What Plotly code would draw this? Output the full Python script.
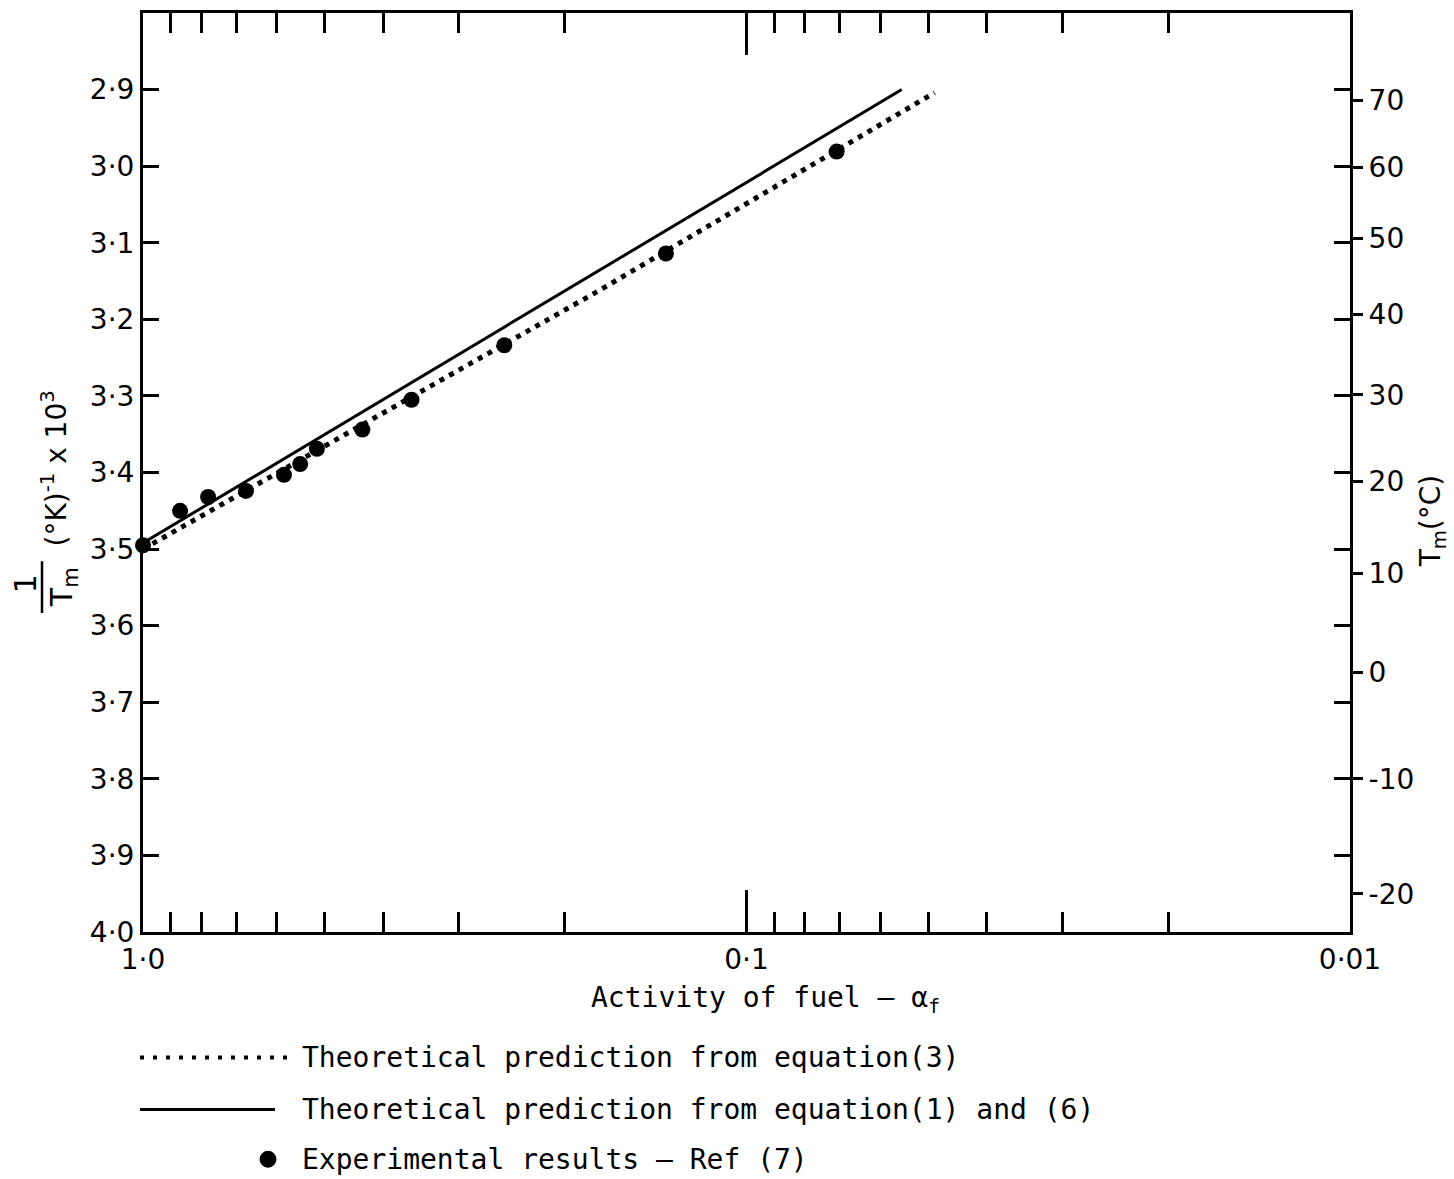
import plotly.graph_objects as go

# ---------------- data ----------------
exp_activity = [1.0, 0.868, 0.780, 0.675, 0.584, 0.549, 0.515, 0.433, 0.359, 0.252, 0.136, 0.0709]
exp_inv_tm = [3.495, 3.450, 3.432, 3.424, 3.403, 3.389, 3.369, 3.344, 3.305, 3.234, 3.114, 2.981]

eq3_activity = [1.0, 0.176, 0.0488]
eq3_inv_tm = [3.500, 3.163, 2.904]

eq16_activity = [1.0, 0.0553]
eq16_inv_tm = [3.492, 2.900]

y_ticks = [2.9, 3.0, 3.1, 3.2, 3.3, 3.4, 3.5, 3.6, 3.7, 3.8, 3.9, 4.0]
y_ticktext = ["2·9", "3·0", "3·1", "3·2", "3·3", "3·4", "3·5", "3·6", "3·7", "3·8", "3·9", "4·0"]

x_ticks = [1.0, 0.9, 0.8, 0.7, 0.6, 0.5, 0.4, 0.3, 0.2, 0.1,
           0.09, 0.08, 0.07, 0.06, 0.05, 0.04, 0.03, 0.02, 0.01]
x_ticktext = ["1·0", "", "", "", "", "", "", "", "", "0·1",
              "", "", "", "", "", "", "", "", "0·01"]
x_major = [0.1]

temps_c = [70, 60, 50, 40, 30, 20, 10, 0, -10, -20]
temp_pos = [1000.0 / (t + 273.15) for t in temps_c]
temp_text = [str(t) for t in temps_c]

legend_labels = ["Theoretical prediction from equation(3)",
                 "Theoretical prediction from equation(1) and (6)",
                 "Experimental results — Ref (7)"]

# ---------------- layout geometry ----------------
W_FIG, H_FIG = 1454, 1179
L, R, T, B = 143, 1350, 10, 932
PW, PH = R - L, B - T
FONT = "DejaVu Sans"
TFONT = "DejaVu Sans Mono"


def px(x):
    return (x - L) / PW


def py(y):
    return (B - y) / PH


fig = go.Figure()

fig.add_trace(go.Scatter(
    x=eq3_activity, y=eq3_inv_tm, mode="lines",
    line=dict(color="black", width=5, dash="5px,6px"),
    xaxis="x", yaxis="y", showlegend=False))

fig.add_trace(go.Scatter(
    x=eq16_activity, y=eq16_inv_tm, mode="lines",
    line=dict(color="black", width=3),
    xaxis="x", yaxis="y2", showlegend=False))

fig.add_trace(go.Scatter(
    x=exp_activity, y=exp_inv_tm, mode="markers",
    marker=dict(color="black", size=16),
    xaxis="x2", yaxis="y", showlegend=False, cliponaxis=False))

xrange_log = [0, -2]
yrange = [4.0, 2.8]

fig.update_layout(
    width=W_FIG, height=H_FIG,
    margin=dict(l=L, r=W_FIG - R, t=T, b=H_FIG - B),
    paper_bgcolor="white", plot_bgcolor="white",
    font=dict(family=FONT, color="black", size=28),
    showlegend=False,
    xaxis=dict(
        type="log", range=xrange_log,
        tickvals=x_ticks, ticktext=x_ticktext,
        ticks="inside", ticklen=20, tickwidth=2.5, tickcolor="black",
        showline=True, linewidth=3, linecolor="black", mirror="ticks",
        showgrid=False, zeroline=False,
        tickfont=dict(size=28, family=FONT),
    ),
    xaxis2=dict(
        type="log", range=xrange_log, overlaying="x", side="bottom",
        tickvals=x_major, ticks="inside", ticklen=42, tickwidth=2.5,
        tickcolor="black", showticklabels=False, showline=False,
        mirror="ticks", showgrid=False, zeroline=False,
    ),
    yaxis=dict(
        range=yrange, tickvals=y_ticks, ticktext=y_ticktext,
        ticks="inside", ticklen=16, tickwidth=2.5, tickcolor="black",
        showline=True, linewidth=3, linecolor="black", mirror="ticks",
        showgrid=False, zeroline=False,
        tickfont=dict(size=28, family=FONT),
    ),
    yaxis2=dict(
        range=yrange, overlaying="y", side="right",
        tickvals=temp_pos, ticktext=temp_text,
        ticks="outside", ticklen=12, tickwidth=2.5, tickcolor="black",
        showline=False, showgrid=False, zeroline=False,
        tickfont=dict(size=28, family=FONT),
    ),
)

annotations = []
shapes = []

# x-axis title
annotations.append(dict(
    x=px(765), y=py(1000), xref="paper", yref="paper",
    text="Activity of fuel — α<sub>f</sub>", showarrow=False,
    font=dict(size=28, family=TFONT), xanchor="center", yanchor="middle"))

# left y-axis title built as a fraction
annotations.append(dict(
    x=px(25), y=py(583), xref="paper", yref="paper", text="1",
    textangle=-90, showarrow=False, font=dict(size=30, family=FONT),
    xanchor="center", yanchor="middle"))
shapes.append(dict(type="line", xref="paper", yref="paper",
                   x0=px(42), x1=px(42), y0=py(560), y1=py(612),
                   line=dict(color="black", width=2.5)))
annotations.append(dict(
    x=px(63), y=py(586), xref="paper", yref="paper", text="T<sub>m</sub>",
    textangle=-90, showarrow=False, font=dict(size=30, family=FONT),
    xanchor="center", yanchor="middle"))
annotations.append(dict(
    x=px(55), y=py(467), xref="paper", yref="paper",
    text="(°K)<sup>-1</sup> x 10<sup>3</sup>",
    textangle=-90, showarrow=False, font=dict(size=28, family=FONT),
    xanchor="center", yanchor="middle"))

# right y-axis title
annotations.append(dict(
    x=px(1432), y=py(520), xref="paper", yref="paper",
    text="T<sub>m</sub>(°C)", textangle=-90, showarrow=False,
    font=dict(size=28, family=FONT), xanchor="center", yanchor="middle"))

# custom legend below the chart
leg_y = [1058, 1110, 1160]
shapes.append(dict(type="line", xref="paper", yref="paper",
                   x0=px(140), x1=px(290), y0=py(leg_y[0]), y1=py(leg_y[0]),
                   line=dict(color="black", width=4, dash="4px,9px")))
shapes.append(dict(type="line", xref="paper", yref="paper",
                   x0=px(140), x1=px(275), y0=py(leg_y[1]), y1=py(leg_y[1]),
                   line=dict(color="black", width=3)))
shapes.append(dict(type="circle", xref="paper", yref="paper",
                   x0=px(260), x1=px(276), y0=py(leg_y[2] + 8), y1=py(leg_y[2] - 8),
                   fillcolor="black", line=dict(color="black", width=1)))
for lbl, yy in zip(legend_labels, leg_y):
    annotations.append(dict(
        x=px(300), y=py(yy), xref="paper", yref="paper", text=lbl,
        showarrow=False, font=dict(size=28, family=TFONT),
        xanchor="left", yanchor="middle"))

fig.update_layout(annotations=annotations, shapes=shapes)

fig.write_html("out.html")
